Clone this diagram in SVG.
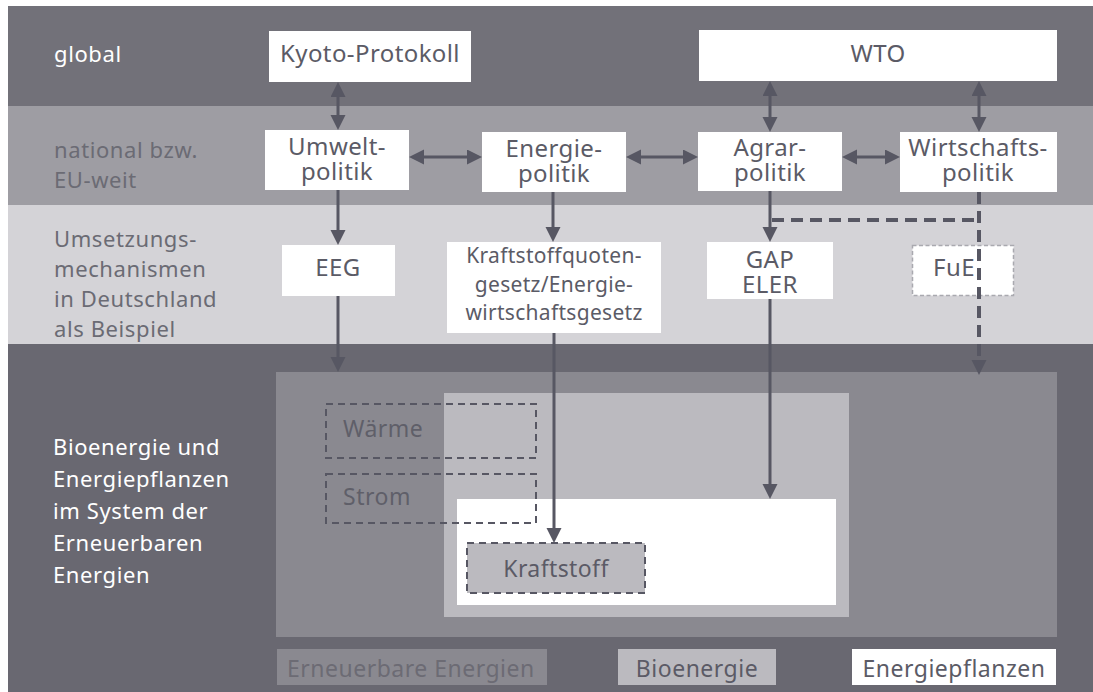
<svg xmlns="http://www.w3.org/2000/svg" width="1093" height="692" viewBox="0 0 1093 692">
<style>
text{font-family:"Noto Sans","Open Sans","DejaVu Sans",sans-serif}
.lbl{font-size:22px;letter-spacing:0.6px}
.lw{fill:#ffffff}
.lg{fill:#6b6b74}
.box{fill:#ffffff}
.bt{font-size:24px;fill:#5b5b66;text-anchor:middle;letter-spacing:0.4px}
.bs{font-size:21px;fill:#5b5b66;text-anchor:middle;letter-spacing:0.3px}
.con{stroke:#575763;stroke-width:3;fill:none}
.dash{stroke:#575763;stroke-width:4;fill:none;stroke-dasharray:12 7}
.dbox{stroke:#575763;stroke-width:2;stroke-dasharray:7 5}
.leg{font-size:23px;letter-spacing:0.5px}
</style>
<defs>
<marker id="ah" markerUnits="userSpaceOnUse" markerWidth="16" markerHeight="16" refX="1" refY="7.5" orient="auto-start-reverse" viewBox="0 0 16 16">
<path d="M0,0 L15,7.5 L0,15 Z" fill="#575763"/>
</marker>
</defs>

<g id="bands">
<rect x="8" y="6" width="1085" height="100" fill="#727179"/>
<rect x="8" y="106" width="1085" height="99" fill="#9e9da3"/>
<rect x="8" y="205" width="1085" height="139" fill="#d4d3d7"/>
<rect x="8" y="344" width="1085" height="348" fill="#696871"/>
</g>

<g id="row-labels">
<text class="lbl lw" x="54" y="62">global</text>
<text class="lbl lg" x="54" y="158">national bzw.</text>
<text class="lbl lg" x="54" y="188">EU-weit</text>
<text class="lbl lg" x="54" y="247">Umsetzungs-</text>
<text class="lbl lg" x="54" y="277">mechanismen</text>
<text class="lbl lg" x="54" y="307">in Deutschland</text>
<text class="lbl lg" x="54" y="337">als Beispiel</text>
<text class="lbl lw" x="53" y="455">Bioenergie und</text>
<text class="lbl lw" x="53" y="487">Energiepflanzen</text>
<text class="lbl lw" x="53" y="519">im System der</text>
<text class="lbl lw" x="53" y="551">Erneuerbaren</text>
<text class="lbl lw" x="53" y="583">Energien</text>
</g>

<g id="area-erneuerbare"><rect x="276" y="372" width="781" height="265" fill="#8a8990"/></g>
<g id="area-bioenergie"><rect x="444" y="393" width="405" height="224" fill="#bbbabf"/></g>
<g id="area-energiepflanzen"><rect x="457" y="499" width="379" height="106" fill="#ffffff"/></g>

<g id="waerme">
<rect class="dbox" x="326" y="404" width="210" height="54" fill="none"/>
<text class="leg" x="343" y="437" fill="#5f5f69">Wärme</text>
</g>
<g id="strom">
<rect class="dbox" x="326" y="474" width="210" height="49" fill="none"/>
<text class="leg" x="343" y="505" fill="#5f5f69">Strom</text>
</g>
<g id="kraftstoff">
<rect class="dbox" x="467" y="543" width="178" height="50" fill="#bbbabf"/>
<text class="bt" x="556" y="577" style="font-size:23px">Kraftstoff</text>
</g>

<g id="kyoto">
<rect class="box" x="269" y="31" width="202" height="51"/>
<text class="bt" x="370" y="62">Kyoto-Protokoll</text>
</g>
<g id="wto">
<rect class="box" x="699" y="30" width="358" height="51"/>
<text class="bt" x="878" y="62">WTO</text>
</g>
<g id="umwelt">
<rect class="box" x="265" y="130" width="144" height="60"/>
<text class="bt" x="337" y="155">Umwelt-</text>
<text class="bt" x="337" y="180">politik</text>
</g>
<g id="energie">
<rect class="box" x="482" y="132" width="144" height="60"/>
<text class="bt" x="554" y="157">Energie-</text>
<text class="bt" x="554" y="182">politik</text>
</g>
<g id="agrar">
<rect class="box" x="698" y="132" width="144" height="59"/>
<text class="bt" x="770" y="156">Agrar-</text>
<text class="bt" x="770" y="181">politik</text>
</g>
<g id="wirtschaft">
<rect class="box" x="900" y="132" width="157" height="60"/>
<text class="bt" x="978" y="156">Wirtschafts-</text>
<text class="bt" x="978" y="181">politik</text>
</g>
<g id="eeg">
<rect class="box" x="282" y="245" width="113" height="51"/>
<text class="bt" x="338" y="276">EEG</text>
</g>
<g id="kraftstoffgesetz">
<rect class="box" x="447" y="242" width="214" height="91"/>
<text class="bs" x="554" y="263">Kraftstoffquoten-</text>
<text class="bs" x="554" y="292">gesetz/Energie-</text>
<text class="bs" x="554" y="320">wirtschaftsgesetz</text>
</g>
<g id="gap">
<rect class="box" x="707" y="242" width="126" height="57"/>
<text class="bt" x="770" y="268">GAP</text>
<text class="bt" x="770" y="293">ELER</text>
</g>
<g id="fue">
<rect x="912.5" y="245.5" width="101" height="50" fill="#ffffff" stroke="#a9a9af" stroke-width="1.5" stroke-dasharray="4 2.5"/>
<text class="bt" x="954" y="276">FuE</text>
</g>

<g id="connectors">
<line class="con" x1="338" y1="96" x2="338" y2="116" marker-start="url(#ah)" marker-end="url(#ah)"/>
<line class="con" x1="423" y1="157" x2="468" y2="157" marker-start="url(#ah)" marker-end="url(#ah)"/>
<line class="con" x1="640" y1="157" x2="684" y2="157" marker-start="url(#ah)" marker-end="url(#ah)"/>
<line class="con" x1="856" y1="157" x2="886" y2="157" marker-start="url(#ah)" marker-end="url(#ah)"/>
<line class="con" x1="770" y1="95" x2="770" y2="118" marker-start="url(#ah)" marker-end="url(#ah)"/>
<line class="con" x1="979" y1="95" x2="979" y2="118" marker-start="url(#ah)" marker-end="url(#ah)"/>
<line class="con" x1="338" y1="190" x2="338" y2="231" marker-end="url(#ah)"/>
<line class="con" x1="553" y1="192" x2="553" y2="228" marker-end="url(#ah)"/>
<line class="con" x1="770" y1="191" x2="770" y2="228" marker-end="url(#ah)"/>
<line class="con" x1="338" y1="296" x2="338" y2="358" marker-end="url(#ah)"/>
<line class="con" x1="554" y1="333" x2="554" y2="529" marker-end="url(#ah)"/>
<line class="con" x1="770" y1="299" x2="770" y2="485" marker-end="url(#ah)"/>
<path class="dash" d="M772,220 H979"/>
<path class="dash" d="M979,192 V361" marker-end="url(#ah)"/>
</g>

<g id="legend">
<rect x="277" y="649" width="270" height="36" fill="#8a8990"/>
<text class="leg" x="287" y="677" fill="#6c6b74">Erneuerbare Energien</text>
<rect x="618" y="649" width="158" height="36" fill="#bbbabf"/>
<text class="leg" x="697" y="677" fill="#5b5b66" text-anchor="middle">Bioenergie</text>
<rect x="852" y="649" width="204" height="36" fill="#ffffff"/>
<text class="leg" x="954" y="677" fill="#5b5b66" text-anchor="middle">Energiepflanzen</text>
</g>
</svg>
